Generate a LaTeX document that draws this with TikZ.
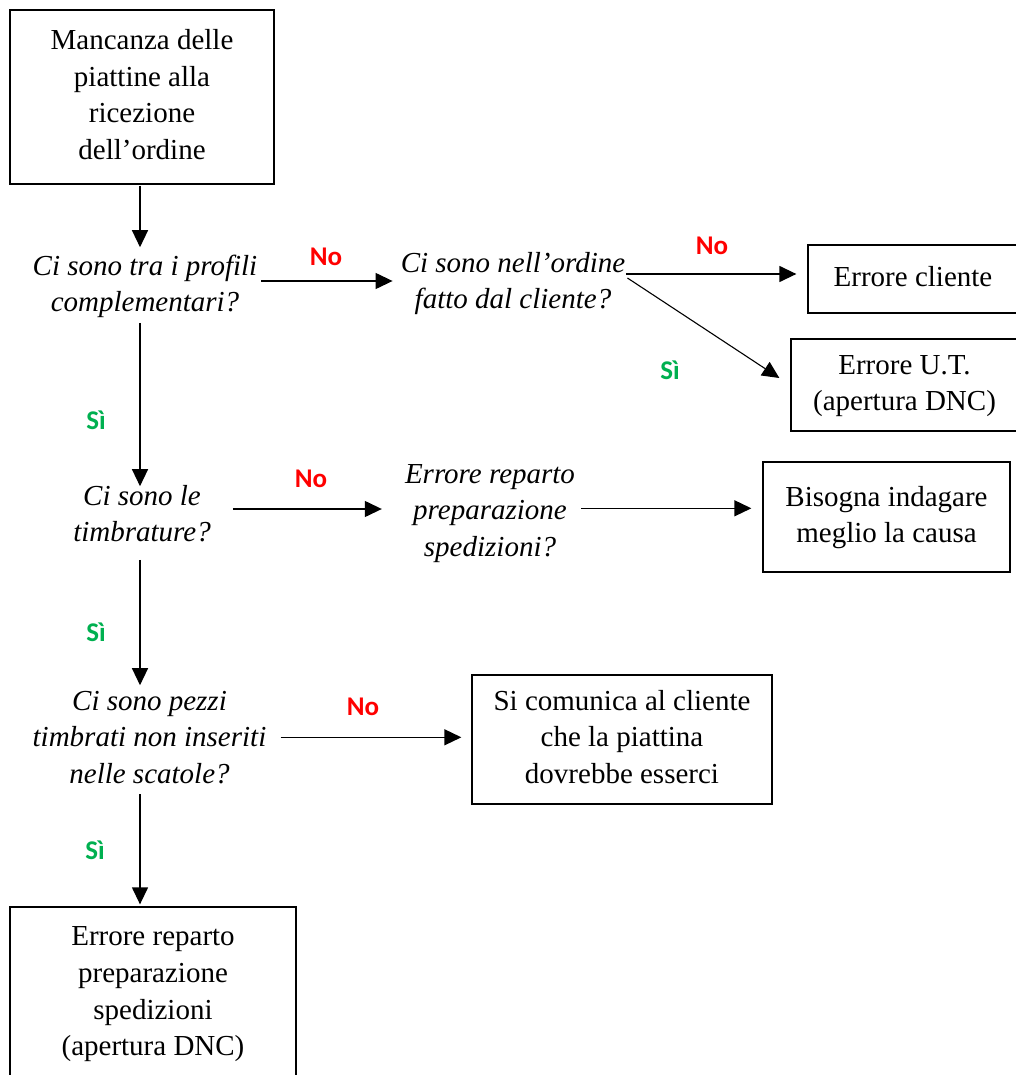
\documentclass[tikz,border=0pt]{standalone}
\usepackage{fontspec}
\setmainfont{Liberation Serif}
\newfontfamily\labelfont{Carlito}
\usetikzlibrary{arrows.meta}
\definecolor{noRed}{RGB}{255,0,0}
\definecolor{siGreen}{RGB}{0,176,80}

\begin{document}
\begin{tikzpicture}[x=1pt,y=-1pt,
  txt/.style={font=\fontsize{29}{36.6}\selectfont, align=center, inner sep=0pt},
  box/.style={txt, draw, line width=1.3pt, rectangle},
  question/.style={txt, font=\fontsize{29}{36.6}\selectfont\itshape},
  conn/.style={line width=1.3pt, -{Triangle[length=17pt,width=16pt]}},
  nolabel/.style={font=\fontsize{27}{32}\selectfont\labelfont\bfseries, text=noRed, inner sep=0pt},
  silabel/.style={font=\fontsize{27}{32}\selectfont\labelfont\bfseries, text=siGreen, inner sep=0pt}
]
\fill[white] (0,0) rectangle (1016,1075);
\useasboundingbox (0,0) rectangle (1016,1075);

% main column of the flow
\coordinate (col) at (140,0);

% boxes
\node[box, minimum width=264pt, minimum height=174pt] (start) at (142,97)
  {\strut Mancanza delle\\piattine alla\\ricezione\\dell’ordine\strut};
\node[box, minimum width=210pt, minimum height=68pt] (ec) at (913,279)
  {\strut Errore cliente\strut};
\node[box, minimum width=227pt, minimum height=92pt] (ut) at (904.5,385)
  {\strut Errore U.T.\\(apertura DNC)\strut};
\node[box, minimum width=247pt, minimum height=110pt] (bis) at (886.5,517)
  {\strut Bisogna indagare\\meglio la causa\strut};
\node[box, minimum width=300pt, minimum height=129pt] (sc) at (622,739.5)
  {\strut Si comunica al cliente\\che la piattina\\dovrebbe esserci\strut};
\node[box, minimum width=286pt, minimum height=173pt] (fin) at (153,993.5)
  {\strut Errore reparto\\preparazione\\spedizioni\\(apertura DNC)\strut};

% questions
\node[question] (q1) at (145,286) {\strut Ci sono tra i profili\\complementari?\strut};
\node[question] (q2) at (513,283) {\strut Ci sono nell’ordine\\fatto dal cliente?\strut};
\node[question] (q3) at (142,516) {\strut Ci sono le\\timbrature?\strut};
\node[question] (q4) at (490,512.3) {\strut Errore reparto\\preparazione\\spedizioni?\strut};
\node[question] (q5) at (149.5,739.3) {\strut Ci sono pezzi\\timbrati non inseriti\\nelle scatole?\strut};

% vertical connectors
\draw[conn, shorten <=1pt, shorten >=2pt] (start.south -| col) -- (q1.north -| col);
\draw[conn, shorten >=-7pt] (q1.south -| col) -- (q3.north -| col);
\draw[conn, shorten <=7pt, shorten >=-1pt] (q3.south -| col) -- (q5.north -| col);
\draw[conn, shorten >=2pt] (q5.south -| col) -- (fin.north -| col);

% horizontal connectors
\draw[conn, shorten <=4pt, shorten >=8pt] ([yshift=5pt]q1.east) -- ([yshift=5pt]q1.east -| q2.west);
\draw[conn, shorten <=1pt, shorten >=11pt] ([yshift=9pt]q2.east) -- ([yshift=9pt]q2.east -| ec.west);
\draw[conn, line width=1.1pt] ([xshift=2pt,yshift=5pt]q2.east) -- ([xshift=-11pt,yshift=7pt]ut.west);
\draw[conn, shorten <=22pt, shorten >=23pt] ([yshift=7pt]q3.east) -- ([yshift=7pt]q3.east -| q4.west);
\draw[conn, shorten <=6pt, shorten >=11pt] ([yshift=4pt]q4.east) -- ([yshift=4pt]q4.east -| bis.west);
\draw[conn, shorten <=14pt, shorten >=10pt] ([yshift=2pt]q5.east) -- ([yshift=2pt]q5.east -| sc.west);

% branch labels
\node[nolabel] (n1) at (326,257) {No};
\node[nolabel] (n2) at (712,246) {No};
\node[silabel] (s1) at (670,370) {Sì};
\node[silabel] (s2) at (96,420) {Sì};
\node[nolabel] (n3) at (311,479) {No};
\node[silabel] (s3) at (96,632) {Sì};
\node[nolabel] (n4) at (363,707) {No};
\node[silabel] (s4) at (95,850) {Sì};
\end{tikzpicture}
\end{document}
